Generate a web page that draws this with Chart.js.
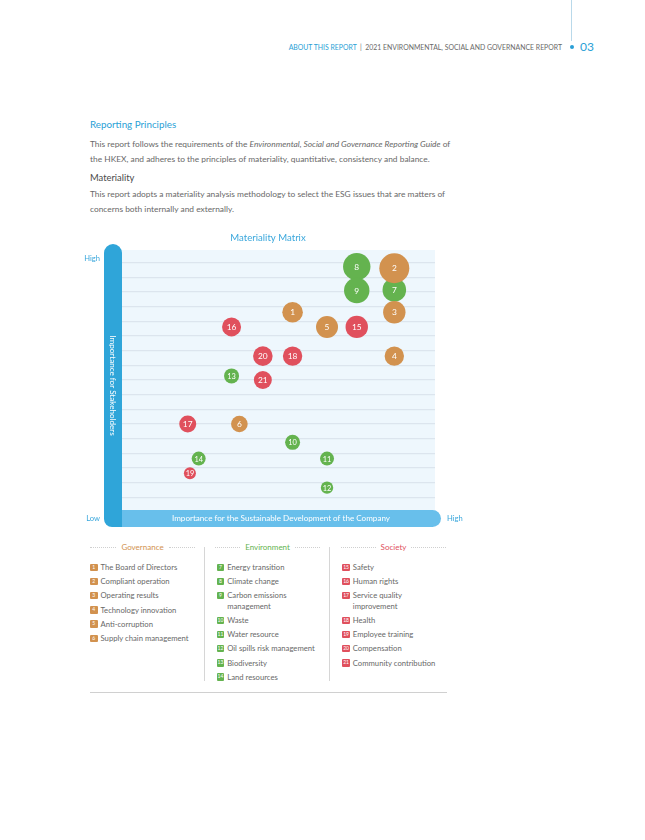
<!DOCTYPE html>
<html>
<head>
<meta charset="utf-8">
<script src="https://cdn.jsdelivr.net/npm/chart.js@4.4.1/dist/chart.umd.min.js"></script>
<style>
body { margin: 0; background: #fff; font-family: Lato, "Noto Sans", sans-serif; color: #666; }
#page { position: relative; width: 645px; height: 840px; overflow: hidden; }
.abs { position: absolute; white-space: nowrap; }
#topline { position: absolute; left: 571px; top: 0; width: 1px; height: 41px; background: #b9d9ea; }
#topdot { position: absolute; left: 569.5px; top: 45px; width: 4px; height: 4px; border-radius: 50%; background: #2a9fd6; }
.para { font-size: 8.4px; line-height: 14.6px; color: #686868; }
#chart { position: absolute; left: 80px; top: 225px; }
.col { position: absolute; top: 541px; width: 105px; }
.head { display: flex; align-items: center; font-size: 8px; height: 12px; }
.head .dash { flex: 1; border-top: 1px dotted #cfcfcf; }
.head span.t { padding: 0 5px; }
.items { margin-top: 9px; }
.item { position: relative; padding-left: 10.5px; font-size: 7.7px; line-height: 10.4px; margin-bottom: 3.8px; color: #686868; white-space: nowrap; }
.badge { position: absolute; left: 0; top: 1.5px; width: 7.5px; height: 7.5px; border-radius: 1px; color: #fff; font-size: 5px; line-height: 7.5px; text-align: center; }
.sep { position: absolute; top: 547px; width: 1.4px; height: 134px; background: #d6d6d6; }
</style>
</head>
<body>
<div id="page">
  <div id="topline"></div>
  <div id="topdot"></div>
  <div class="abs" style="right:83px; top:43px; font-size:6.9px; color:#6a6a6a;"><span style="color:#2a9fd6;">ABOUT THIS REPORT</span> &nbsp;|&nbsp; 2021 ENVIRONMENTAL, SOCIAL AND GOVERNANCE REPORT</div>
  <div class="abs" style="left:580px; top:39px; font-size:12px; color:#2a9fd6;">03</div>

  <div class="abs" style="left:90px; top:118px; font-size:9.8px; color:#2a9fd6;">Reporting Principles</div>
  <div class="abs para" style="left:90px; top:137px;">This report follows the requirements of the <i>Environmental, Social and Governance Reporting Guide</i> of<br>the HKEX, and adheres to the principles of materiality, quantitative, consistency and balance.</div>
  <div class="abs" style="left:90px; top:172px; font-size:9.4px; color:#4a4a4a;">Materiality</div>
  <div class="abs para" style="left:90px; top:187px;">This report adopts a materiality analysis methodology to select the ESG issues that are matters of<br>concerns both internally and externally.</div>

  <canvas id="chart" width="395" height="310"></canvas>

  <div class="sep" style="left:204px;"></div>
  <div class="sep" style="left:329px;"></div>
  <div class="col" id="colGov" style="left:90px;"></div>
  <div class="col" id="colEnv" style="left:215px;"></div>
  <div class="col" id="colSoc" style="left:341px;"></div>
  <div style="position:absolute; left:90px; top:692px; width:357px; height:1.4px; background:#d0d0d0;"></div>
</div>

<script>
// Materiality matrix data (x = importance for the company, y = importance for stakeholders)
const govIds = [1, 2, 3, 4, 5, 6]
const govX = [5.45, 8.7, 8.7, 8.7, 6.55, 3.75]
const govY = [13.62, 16.62, 13.62, 10.63, 12.62, 6.0]
const govR = [10.3, 15, 11.2, 9.7, 11, 8.3]
const govNames = ['The Board of Directors', 'Compliant operation', 'Operating results', 'Technology innovation', 'Anti-corruption', 'Supply chain management']

const envIds = [7, 8, 9, 10, 11, 12, 13, 14]
const envX = [8.7, 7.5, 7.5, 5.45, 6.55, 6.55, 3.5, 2.45]
const envY = [15.14, 16.73, 15.1, 4.75, 3.64, 1.66, 9.28, 3.64]
const envR = [11.8, 13.7, 12.7, 7.5, 7, 6.2, 7.5, 7]
const envNames = ['Energy transition', 'Climate change', 'Carbon emissions<br>management', 'Waste', 'Water resource', 'Oil spills risk management', 'Biodiversity', 'Land resources']

const socIds = [15, 16, 17, 18, 19, 20, 21]
const socX = [7.5, 3.5, 2.1, 5.45, 2.17, 4.5, 4.5]
const socY = [12.62, 12.62, 6.0, 10.63, 2.64, 10.63, 9.0]
const socR = [11.2, 9.5, 8.5, 9.7, 6, 9.8, 9]
const socNames = ['Safety', 'Human rights', 'Service quality<br>improvement', 'Health', 'Employee training', 'Compensation', 'Community contribution']

const groupTitles = ['Governance', 'Environment', 'Society']
const ORANGE = '#d2924f'
const GREEN = '#64b34f'
const RED = '#e0505d'
const FONT = 'Lato, "Noto Sans", sans-serif'

function toPoints(xs, ys, rs) {
	return xs.map((x, i) => ({ x: x, y: ys[i], r: rs[i] }))
}

// legend columns under the chart
function buildColumn(el, title, color, ids, names, shift) {
	let html = '<div class="head"><span class="dash"></span><span class="t" style="color:' + color + '">' + title + '</span><span class="dash"></span></div><div class="items" style="margin-left:' + shift + 'px">'
	ids.forEach((id, i) => {
		html += '<div class="item"><span class="badge" style="background:' + color + '">' + id + '</span>' + names[i] + '</div>'
	})
	el.innerHTML = html + '</div>'
}
buildColumn(document.querySelector('#colGov'), groupTitles[0], ORANGE, govIds, govNames, 0)
buildColumn(document.querySelector('#colEnv'), groupTitles[1], GREEN, envIds, envNames, 1.7)
buildColumn(document.querySelector('#colSoc'), groupTitles[2], RED, socIds, socNames, 1.3)

function roundRect(ctx, x, y, w, h, r) {
	// r = [tl, tr, br, bl]
	ctx.beginPath()
	ctx.moveTo(x + r[0], y)
	ctx.lineTo(x + w - r[1], y)
	ctx.arcTo(x + w, y, x + w, y + r[1], r[1])
	ctx.lineTo(x + w, y + h - r[2])
	ctx.arcTo(x + w, y + h, x + w - r[2], y + h, r[2])
	ctx.lineTo(x + r[3], y + h)
	ctx.arcTo(x, y + h, x, y + h - r[3], r[3])
	ctx.lineTo(x, y + r[0])
	ctx.arcTo(x, y, x + r[0], y, r[0])
	ctx.closePath()
}

const matrixFrame = {
	id: 'matrixFrame',
	beforeDraw(chart) {
		const ctx = chart.ctx
		const a = chart.chartArea
		ctx.save()
		ctx.fillStyle = '#eef7fd'
		ctx.fillRect(a.left, a.top + 2, a.right - a.left, a.bottom - a.top - 2)
		ctx.restore()
	},
	afterDraw(chart) {
		const ctx = chart.ctx
		const a = chart.chartArea
		ctx.save()
		// x axis band
		const bx = a.left - 1
		const bw = a.right - a.left + 7
		ctx.fillStyle = '#68bfeb'
		roundRect(ctx, bx, a.bottom - 2, bw, 17, [0, 8.5, 8.5, 0])
		ctx.fill()
		// y axis band
		ctx.fillStyle = '#2fa5d9'
		roundRect(ctx, a.left - 18, a.top - 4, 18, a.bottom - a.top + 19, [9, 9, 0, 8])
		ctx.fill()

		ctx.fillStyle = '#fff'
		ctx.textAlign = 'center'
		ctx.textBaseline = 'middle'
		ctx.font = '8.1px ' + FONT
		ctx.fillText('Importance for the Sustainable Development of the Company', bx + bw / 2, a.bottom + 6.5)
		ctx.save()
		ctx.translate(a.left - 9, (a.top - 4 + a.bottom + 15) / 2)
		ctx.rotate(Math.PI / 2)
		ctx.fillText('Importance for Stakeholders', 0, 0)
		ctx.restore()

		ctx.fillStyle = '#3aa7dc'
		ctx.font = '9.6px ' + FONT
		ctx.fillText('Materiality Matrix', 188, 13)
		ctx.font = '7.6px ' + FONT
		ctx.textAlign = 'right'
		ctx.fillText('High', a.left - 22, a.top + 11)
		ctx.fillText('Low', a.left - 22, a.bottom + 6.5)
		ctx.textAlign = 'left'
		ctx.fillText('High', a.right + 12, a.bottom + 6.5)
		ctx.restore()
	},
	afterDatasetsDraw(chart) {
		const ctx = chart.ctx
		const allIds = [govIds, envIds, socIds]
		ctx.save()
		ctx.fillStyle = '#fff'
		ctx.textAlign = 'center'
		ctx.textBaseline = 'middle'
		chart.data.datasets.forEach((ds, di) => {
			chart.getDatasetMeta(di).data.forEach((pt, i) => {
				const r = ds.data[i].r
				ctx.font = (r > 8 ? 8.4 : 7.4) + 'px ' + FONT
				ctx.fillText(String(allIds[di][i]), pt.x, pt.y + 0.5)
			})
		})
		ctx.restore()
	}
}

const matrixData = {
	datasets: [
		{ label: groupTitles[0], data: toPoints(govX, govY, govR), backgroundColor: ORANGE, borderWidth: 0, hoverBorderWidth: 0 },
		{ label: groupTitles[1], data: toPoints(envX, envY, envR), backgroundColor: GREEN, borderWidth: 0, hoverBorderWidth: 0 },
		{ label: groupTitles[2], data: toPoints(socX, socY, socR), backgroundColor: RED, borderWidth: 0, hoverBorderWidth: 0 }
	]
}

const matrixConfig = {
	type: 'bubble',
	data: matrixData,
	options: {
		responsive: false,
		animation: false,
		devicePixelRatio: 1,
		layout: { padding: { left: 42, right: 40, top: 23, bottom: 23 } },
		plugins: { legend: { display: false }, tooltip: { enabled: false } },
		scales: {
			x: { type: 'linear', min: 0, max: 10, display: false },
			y: {
				type: 'linear',
				min: 0,
				max: 18,
				ticks: { display: false, stepSize: 1 },
				border: { display: false },
				grid: {
					drawTicks: false,
					lineWidth: 1.2,
					color: (c) => (c.tick.value === 0 || c.tick.value === 18) ? 'rgba(0,0,0,0)' : '#dce5ee'
				}
			}
		}
	},
	plugins: [matrixFrame]
}

const matrix = new Chart(document.querySelector('#chart'), matrixConfig)
</script>
</body>
</html>
